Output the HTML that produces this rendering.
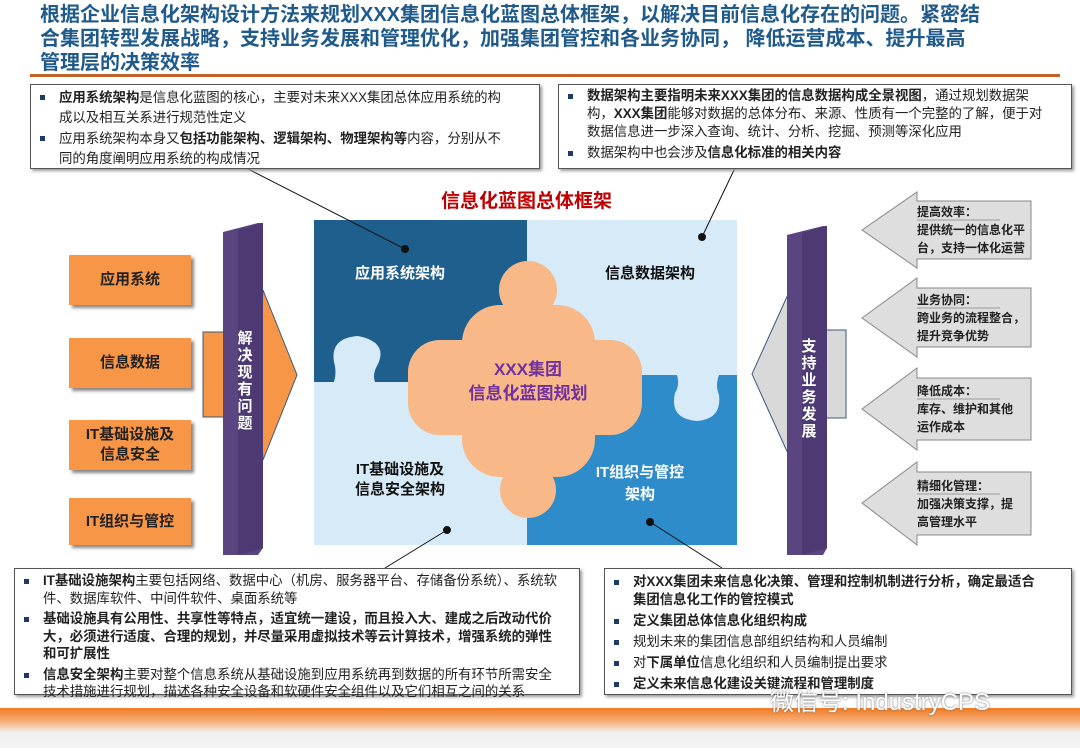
<!DOCTYPE html><html><head><meta charset="utf-8"><style>
body{margin:0;width:1080px;height:748px;overflow:hidden;background:#fff;font-family:"Liberation Sans","Noto Sans CJK SC",sans-serif;position:relative}
.a{position:absolute}
.t{font-size:20px;font-weight:bold;color:#1f5a8a;left:40px;top:3px;width:945px;line-height:24px}
.box{position:absolute;border:1px solid #555;background:#fff;box-shadow:2px 2px 3px #999;font-size:13.4px;line-height:20px;color:#222;box-sizing:border-box}
.box ul{margin:0;padding:0;list-style:none}
.box li{position:relative;padding-left:28px}
.box li:before{content:"";position:absolute;left:9px;top:7px;width:5px;height:5px;background:#1f3a66}
b{font-weight:bold}
.ob{position:absolute;background:#f79646;box-shadow:3px 3px 3px #888;font-weight:bold;font-size:15px;color:#222;display:flex;align-items:center;justify-content:center;text-align:center;line-height:20px}
.rt{position:absolute;font-size:12px;font-weight:bold;line-height:18px;color:#222}
.vt{position:absolute;color:#fff;font-weight:bold;font-size:15px;width:18px;line-height:17px;text-align:center}
</style></head><body>
<div class="a t">根据企业信息化架构设计方法来规划XXX集团信息化蓝图总体框架，以解决目前信息化存在的问题。紧密结合集团转型发展战略，支持业务发展和管理优化，加强集团管控和各业务协同， 降低运营成本、提升最高管理层的决策效率</div>
<svg class="a" style="left:0;top:0" width="1080" height="748">
<defs><linearGradient id="bg" x1="0" y1="0" x2="0" y2="1"><stop offset="0" stop-color="#f07a22"/><stop offset="0.35" stop-color="#f6b27c"/><stop offset="0.6" stop-color="#eeeeee"/><stop offset="1" stop-color="#f4f4f4"/></linearGradient></defs>
<rect x="30" y="74" width="1030" height="3" fill="#c0622a"/>
<rect x="0" y="708" width="1080" height="40" fill="url(#bg)"/>
<rect x="314" y="220" width="423" height="325" fill="#d6eaf7"/>
<path d="M314 220 H527 V382 H375 q-3 -8 3 -18 q10 -22 -20 -28 q-28 2 -24 26 q3 10 0 20 H314 Z" fill="#1f5f8e"/>
<path d="M527 375 H677 q3 10 -2 18 q-6 26 22 28 q25 -2 22 -26 q-4 -10 0 -20 H737 V545 H527 Z" fill="#2f8ccb"/>
<g fill="#f8b888">
<rect x="462" y="305" width="133" height="172" rx="38"/>
<rect x="408" y="340" width="234" height="95" rx="32"/>
<circle cx="528" cy="290" r="29"/>
<circle cx="528" cy="490" r="28"/>
</g>
<g stroke="#111" stroke-width="1" fill="#111">
<line x1="246" y1="168" x2="405" y2="249"/><circle cx="405" cy="249" r="3.5"/>
<line x1="735" y1="168" x2="702" y2="237"/><circle cx="702" cy="237" r="3.5"/>
<line x1="447" y1="530" x2="385" y2="568"/><circle cx="447" cy="530" r="3.5"/>
<line x1="650" y1="522" x2="722" y2="568"/><circle cx="650" cy="522" r="3.5"/>
</g>
<rect x="203" y="332" width="24" height="85" fill="#f79646" stroke="#3a5a7a"/>
<polygon points="260,332 263,290 297,375 263,460 260,417" fill="#f79646" stroke="#3a5a7a"/>
<polygon points="223,232 258,223 263,223 263,548 258,555 223,555" fill="#5b4580"/>
<polygon points="238,230 263,223 263,548 238,555" fill="#4d3a72"/>
<rect x="822" y="330" width="24" height="88" fill="#d9d9d9" stroke="#3a5a7a"/>
<polygon points="790,330 790,290 752,374 790,458 790,418" fill="#d9d9d9" stroke="#3a5a7a"/>
<polygon points="787,235 823,226 827,226 827,548 823,555 787,555" fill="#5b4580"/>
<polygon points="802,233 827,226 827,548 802,555" fill="#4d3a72"/>
<g fill="#dedede" stroke="#888" stroke-width="1">
<polygon points="862,230 917,192 917,201 1031,201 1031,259 917,259 917,268"/>
<polygon points="862,318 917,278 917,288 1031,288 1031,347 917,347 917,357"/>
<polygon points="862,409 917,368 917,378 1031,378 1031,440 917,440 917,450"/>
<polygon points="862,503 917,462 917,472 1031,472 1031,535 917,535 917,545"/>
</g>
<g stroke="#999"><line x1="917" y1="220" x2="1000" y2="220"/><line x1="917" y1="308" x2="1000" y2="308"/><line x1="917" y1="399" x2="1000" y2="399"/><line x1="917" y1="494" x2="1000" y2="494"/></g>
</svg>
<div class="a" style="left:315px;top:186px;width:423px;text-align:center;font-size:19px;font-weight:bold;color:#c00000">信息化蓝图总体框架</div>
<div class="a" style="left:330px;top:262px;width:140px;text-align:center;font-size:15px;font-weight:bold;color:#fff">应用系统架构</div>
<div class="a" style="left:580px;top:262px;width:140px;text-align:center;font-size:15px;font-weight:bold;color:#111">信息数据架构</div>
<div class="a" style="left:330px;top:460px;width:140px;text-align:center;font-size:15px;font-weight:bold;color:#111;line-height:20px">IT基础设施及<br>信息安全架构</div>
<div class="a" style="left:570px;top:462px;width:140px;text-align:center;font-size:15px;font-weight:bold;color:#fff;line-height:22px">IT组织与管控<br>架构</div>
<div class="a" style="left:430px;top:358px;width:196px;text-align:center;font-size:17px;font-weight:bold;color:#7030a0;line-height:24px">XXX集团<br>信息化蓝图规划</div>
<div class="ob" style="left:69px;top:255px;width:122px;height:50px">应用系统</div>
<div class="ob" style="left:69px;top:338px;width:122px;height:50px">信息数据</div>
<div class="ob" style="left:69px;top:420px;width:122px;height:50px">IT基础设施及<br>信息安全</div>
<div class="ob" style="left:69px;top:498px;width:122px;height:47px">IT组织与管控</div>
<div class="vt" style="left:236px;top:330px">解决现有问题</div>
<div class="vt" style="left:800px;top:338px">支持业务发展</div>
<div class="rt" style="left:917px;top:203px">提高效率：<br>提供统一的信息化平<br>台，支持一体化运营</div>
<div class="rt" style="left:917px;top:291px">业务协同：<br>跨业务的流程整合，<br>提升竞争优势</div>
<div class="rt" style="left:917px;top:382px">降低成本：<br>库存、维护和其他<br>运作成本</div>
<div class="rt" style="left:917px;top:477px">精细化管理：<br>加强决策支撑，提<br>高管理水平</div>
<div class="box" style="left:30px;top:84px;width:510px;height:85px;padding-top:3px;padding-right:36px"><ul>
<li><b>应用系统架构</b>是信息化蓝图的核心，主要对未来XXX集团总体应用系统的构成以及相互关系进行规范性定义</li>
<li style="margin-top:1px">应用系统架构本身又<b>包括功能架构、逻辑架构、物理架构等</b>内容，分别从不同的角度阐明应用系统的构成情况</li></ul></div>
<div class="box" style="left:558px;top:84px;width:514px;height:85px;padding-top:2px;padding-right:20px;line-height:18px"><ul>
<li><b>数据架构主要指明未来XXX集团的信息数据构成全景视图</b>，通过规划数据架构，<b>XXX集团</b>能够对数据的总体分布、来源、性质有一个完整的了解，便于对数据信息进一步深入查询、统计、分析、挖掘、预测等深化应用</li>
<li style="margin-top:3px">数据架构中也会涉及<b>信息化标准的相关内容</b></li></ul></div>
<div class="box" style="left:14px;top:568px;width:566px;height:127px;padding-top:3px;padding-right:14px;line-height:17.5px"><ul>
<li><b>IT基础设施架构</b>主要包括网络、数据中心（机房、服务器平台、存储备份系统）、系统软件、数据库软件、中间件软件、桌面系统等</li>
<li style="margin-top:3px"><b>基础设施具有公用性、共享性等特点，适宜统一建设，而且投入大、建成之后改动代价大，必须进行适度、合理的规划，并尽量采用虚拟技术等云计算技术，增强系统的弹性和可扩展性</b></li>
<li style="margin-top:3px"><b>信息安全架构</b>主要对整个信息系统从基础设施到应用系统再到数据的所有环节所需安全技术措施进行规划，描述各种安全设备和软硬件安全组件以及它们相互之间的关系</li></ul></div>
<div class="box" style="left:604px;top:568px;width:468px;height:127px;padding-top:4px;padding-right:32px;line-height:18px"><ul>
<li><b>对XXX集团未来信息化决策、管理和控制机制进行分析，确定最适合集团信息化工作的管控模式</b></li>
<li style="margin-top:3px"><b>定义集团总体信息化组织构成</b></li>
<li style="margin-top:3px">规划未来的集团信息部组织结构和人员编制</li>
<li style="margin-top:3px">对<b>下属单位</b>信息化组织和人员编制提出要求</li>
<li style="margin-top:3px"><b>定义未来信息化建设关键流程和管理制度</b></li></ul></div>
<div class="a" style="left:770px;top:682px;font-size:24px;color:#fff;text-shadow:0 0 2px #666">微信号: IndustryCPS</div>
</body></html>
